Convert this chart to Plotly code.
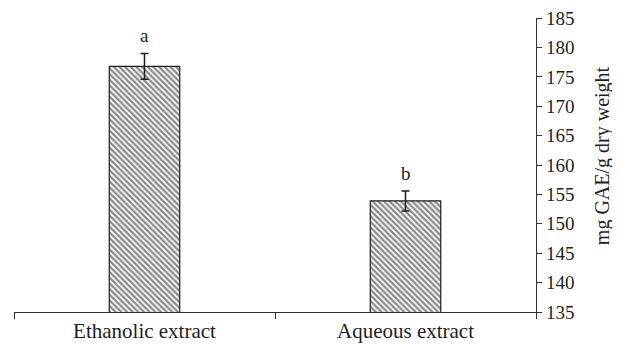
import plotly.graph_objects as go

categories = ["Ethanolic extract", "Aqueous extract"]
values = [176.8, 153.9]
errors = [2.2, 1.7]
letters = ["a", "b"]
y_ticks = [135, 140, 145, 150, 155, 160, 165, 170, 175, 180, 185]
y_title = "mg GAE/g dry weight"

font_family = "Liberation Serif, Times New Roman, serif"
ink = "#1e1e1e"

fig = go.Figure()
fig.add_trace(go.Bar(
    x=categories,
    y=values,
    width=0.27,
    marker=dict(
        color="white",
        line=dict(color=ink, width=1.2),
        pattern=dict(shape="\\", fgcolor="#111111", bgcolor="white",
                     size=4, solidity=0.55, fillmode="overlay"),
    ),
    error_y=dict(type="data", array=errors, visible=True,
                 color=ink, thickness=1.5, width=4),
))

for c, v, e, l in zip(categories, values, errors, letters):
    fig.add_annotation(x=c, y=v + e, text=l, showarrow=False,
                       yanchor="bottom", yshift=5,
                       font=dict(family=font_family, size=19, color=ink))

fig.add_annotation(xref="paper", yref="paper", x=1, y=0.53, xshift=66,
                   text=y_title, textangle=-90, showarrow=False,
                   xanchor="center", yanchor="middle",
                   font=dict(family=font_family, size=20, color=ink))

fig.update_layout(
    width=612, height=337,
    margin=dict(l=6, r=84, t=10, b=33, autoexpand=False),
    paper_bgcolor="white", plot_bgcolor="white",
    showlegend=False,
    font=dict(family=font_family, size=19, color=ink),
)
fig.update_xaxes(
    showline=True, linecolor="#333333", linewidth=1.2, automargin=False,
    ticks="outside", tickson="boundaries", ticklen=6, tickcolor="#333333",
    showgrid=False, tickfont=dict(family=font_family, size=21, color=ink),
)
fig.update_yaxes(
    side="right", range=[135, 185.02], tickvals=y_ticks,
    showline=True, linecolor="#333333", linewidth=1.2, automargin=False,
    ticks="outside", ticklen=5, tickcolor="#333333",
    showgrid=False, zeroline=False, ticklabeloverflow="allow",
    tickfont=dict(family=font_family, size=19, color=ink),
)

fig.write_html("out.html")
